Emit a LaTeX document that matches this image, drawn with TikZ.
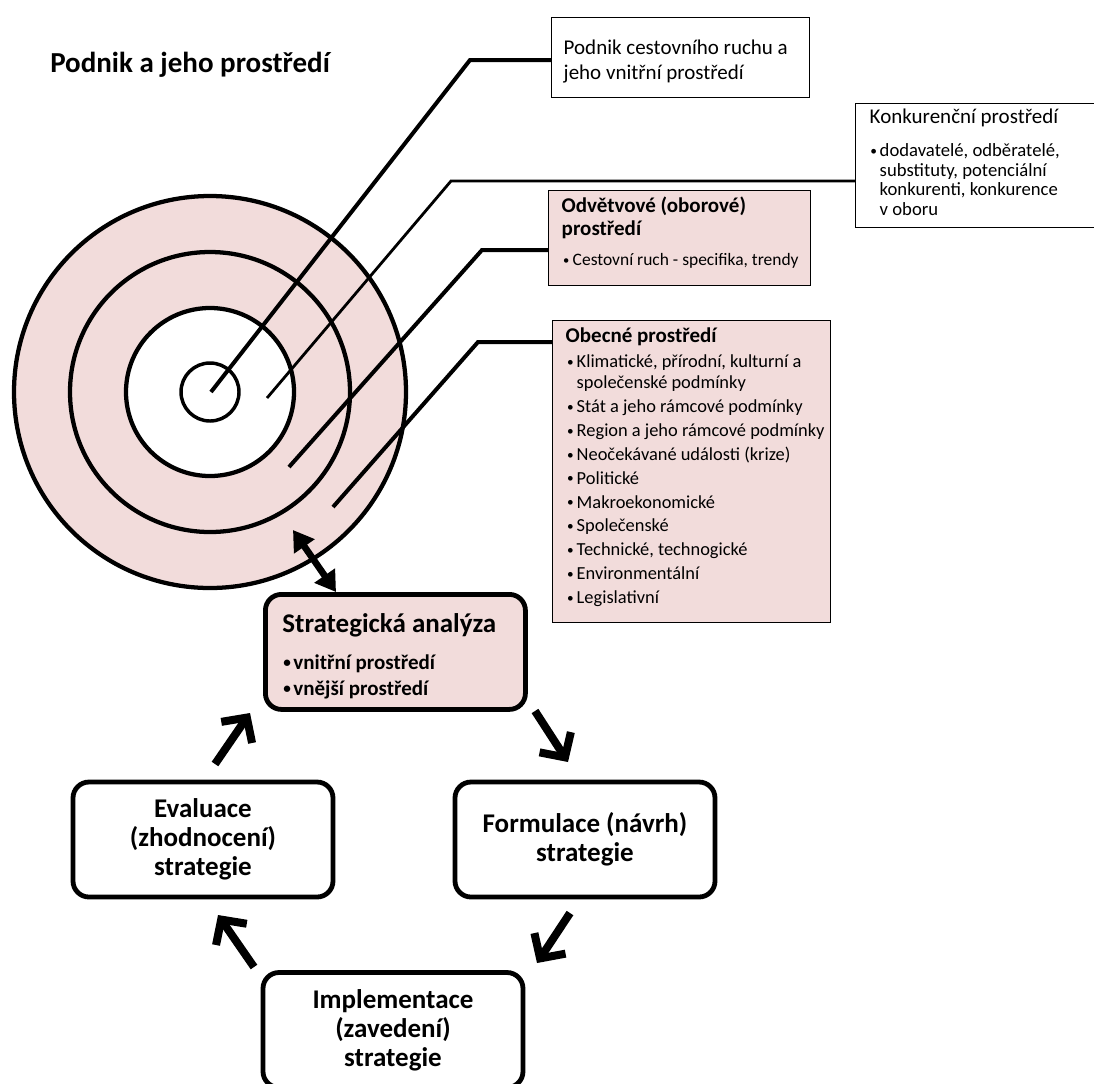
\documentclass[tikz,border=0pt]{standalone}
\usepackage{fontspec}
\usepackage{graphicx}
\setmainfont{Carlito}
\usetikzlibrary{arrows.meta}
\definecolor{rosa}{HTML}{F2DCDB}
\newlength\bulw \newlength\bulx \newlength\igap
\setlength\bulw{9pt}\setlength\bulx{2pt}\setlength\igap{0pt}
\newcommand\bdot{\raisebox{0.07em}{\scalebox{0.72}{•}}}
\newcommand\bitem[1]{\par\vspace{\igap}\noindent\makebox[\bulw][l]{\hspace*{\bulx}\bdot}\mbox{#1}}
\newcommand\bcont[1]{\par\noindent\hspace*{\bulw}\mbox{#1}}
\begin{document}
\begin{tikzpicture}[x=0.75pt,y=-0.75pt,
  ring/.style={circle, draw, line width=3.2pt, inner sep=0pt},
  lead/.style={line width=3pt},
  leadthin/.style={line width=2.1pt},
  pbox/.style={draw, line width=1.1pt, inner ysep=0pt, anchor=north west},
  sbox/.style={draw, line width=3.6pt, rounded corners=12pt, inner ysep=0pt, anchor=north west},
  cbox/.style={draw, line width=3.6pt, rounded corners=12pt, inner sep=0pt,
    minimum width=195pt, minimum height=86.25pt, align=center,
    font=\bfseries\fontsize{20.25pt}{21.75pt}\selectfont},
  cyc/.style={line width=6pt, -{Straight Barb[length=13.5pt, width=28pt]}},
  dbl/.style={line width=5pt, {Triangle[length=15pt, width=18pt]}-{Triangle[length=15pt, width=18pt]}}
]
\useasboundingbox (0,0) rectangle (1094,1083);

% title
\node[anchor=base west, inner sep=0pt, font=\bfseries\fontsize{21.75pt}{26pt}\selectfont] (title) at (50,72) {Podnik a jeho prostředí};

% target circles
\node[ring, fill=rosa, minimum size=294pt] (c4) at (210,392) {};
\node[ring, minimum size=210pt] (c3) at (210,392) {};
\node[ring, fill=white, minimum size=126pt] (c2) at (210,392) {};
\node[ring, line width=2.6pt, minimum size=43.5pt] (c1) at (210,392) {};

% label boxes
\node[pbox, fill=white, inner xsep=9pt] (b1) at (551,17) {\parbox[c][60pt][t]{175.5pt}{\lineskiplimit=-30pt
  \fontsize{15.75pt}{18.75pt}\selectfont
  \rule{0pt}{27.75pt}Podnik cestovního ruchu a\par jeho vnitřní prostředí\par}};

\node[pbox, fill=white, inner xsep=10.5pt] (konk) at (855,103) {\parbox[c][93pt][t]{162.75pt}{\lineskiplimit=-30pt
  \fontsize{14pt}{14.6pt}\selectfont\setlength\bulw{7.5pt}\setlength\bulx{0.5pt}
  {\fontsize{15.75pt}{14.6pt}\selectfont\rule{0pt}{14.6pt}Konkurenční prostředí\par}
  \vspace{10.5pt}
  \bitem{dodavatelé, odběratelé,}
  \bcont{substituty, potenciální}
  \bcont{konkurenti, konkurence}
  \bcont{v oboru}\par}};

\node[pbox, fill=rosa, inner xsep=9.75pt] (odv) at (548,190) {\parbox[c][71.25pt][t]{177pt}{\lineskiplimit=-30pt
  \fontsize{15.75pt}{17.25pt}\selectfont\setlength\bulw{8.25pt}\setlength\bulx{1pt}
  {\bfseries\rule{0pt}{16.5pt}Odvětvové (oborové)\par prostředí\par}
  \vspace{5.25pt}
  \fontsize{13.1pt}{17.25pt}\selectfont
  \bitem{Cestovní ruch - specifika, trendy}\par}};

\node[pbox, fill=rosa, inner xsep=9.75pt] (obec) at (552,320) {\parbox[c][226.5pt][t]{189pt}{\lineskiplimit=-30pt
  \fontsize{13.8pt}{15.75pt}\selectfont\setlength\igap{2.15pt}\setlength\bulw{8.25pt}\setlength\bulx{1pt}
  {\fontsize{15.75pt}{15.75pt}\selectfont\bfseries\rule{0pt}{16.5pt}Obecné prostředí\par}
  \vspace{0.85pt}
  \bitem{Klimatické, přírodní, kulturní a}
  \bcont{společenské podmínky}
  \bitem{Stát a jeho rámcové podmínky}
  \bitem{Region a jeho rámcové podmínky}
  \bitem{Neočekávané události (krize)}
  \bitem{Politické}
  \bitem{Makroekonomické}
  \bitem{Společenské}
  \bitem{Technické, technogické}
  \bitem{Environmentální}
  \bitem{Legislativní}\par}};

% leader lines
\coordinate (s1) at (211,392); \coordinate (k1) at (470,60);
\coordinate (s2) at (267,398); \coordinate (k2) at (451,181);
\coordinate (s3) at (289,467); \coordinate (k3) at (482,250);
\coordinate (s4) at (333,507); \coordinate (k4) at (478,342);
\draw[lead] (s1) -- (k1) -- (k1 -| b1.west);
\draw[leadthin] (s2) -- (k2) -- (k2 -| konk.west);
\draw[lead] (s3) -- (k3) -- (k3 -| odv.west);
\draw[lead] (s4) -- (k4) -- (k4 -| obec.west);

% strategic cycle
\node[sbox, fill=rosa, inner xsep=12.75pt] (strat) at (263,592) {\parbox[c][86.25pt][t]{169.5pt}{\lineskiplimit=-30pt\bfseries
  \fontsize{15.75pt}{19.5pt}\selectfont\setlength\bulw{8.25pt}\setlength\bulx{0.75pt}
  {\fontsize{20.25pt}{19.5pt}\selectfont\rule{0pt}{28.5pt}Strategická analýza\par}
  \vspace{8.25pt}
  \bitem{vnitřní prostředí}
  \bitem{vnější prostředí}\par}};
\node[cbox] (eval) at (203,839.5) {Evaluace\\(zhodnocení)\\strategie};
\node[cbox] (form) at (585,839.5) {Formulace (návrh)\\strategie};
\node[cbox] (impl) at (393,1030) {Implementace\\(zavedení)\\strategie};

% arrows
\coordinate (dtop) at (293,530);
\coordinate (dbot) at ([xshift=54.75pt]strat.north west);
\draw[dbl] (dtop) -- (dbot);
\coordinate (a1s) at (535,711); \coordinate (a1e) at (568,762);
\coordinate (a2s) at (570,913); \coordinate (a2e) at (537,963);
\coordinate (a3s) at (254,967); \coordinate (a3e) at (218,915);
\coordinate (a4s) at (215,764); \coordinate (a4e) at (250,713);
\draw[cyc] (a1s) -- (a1e);
\draw[cyc] (a2s) -- (a2e);
\draw[cyc] (a3s) -- (a3e);
\draw[cyc] (a4s) -- (a4e);
\end{tikzpicture}
\end{document}
